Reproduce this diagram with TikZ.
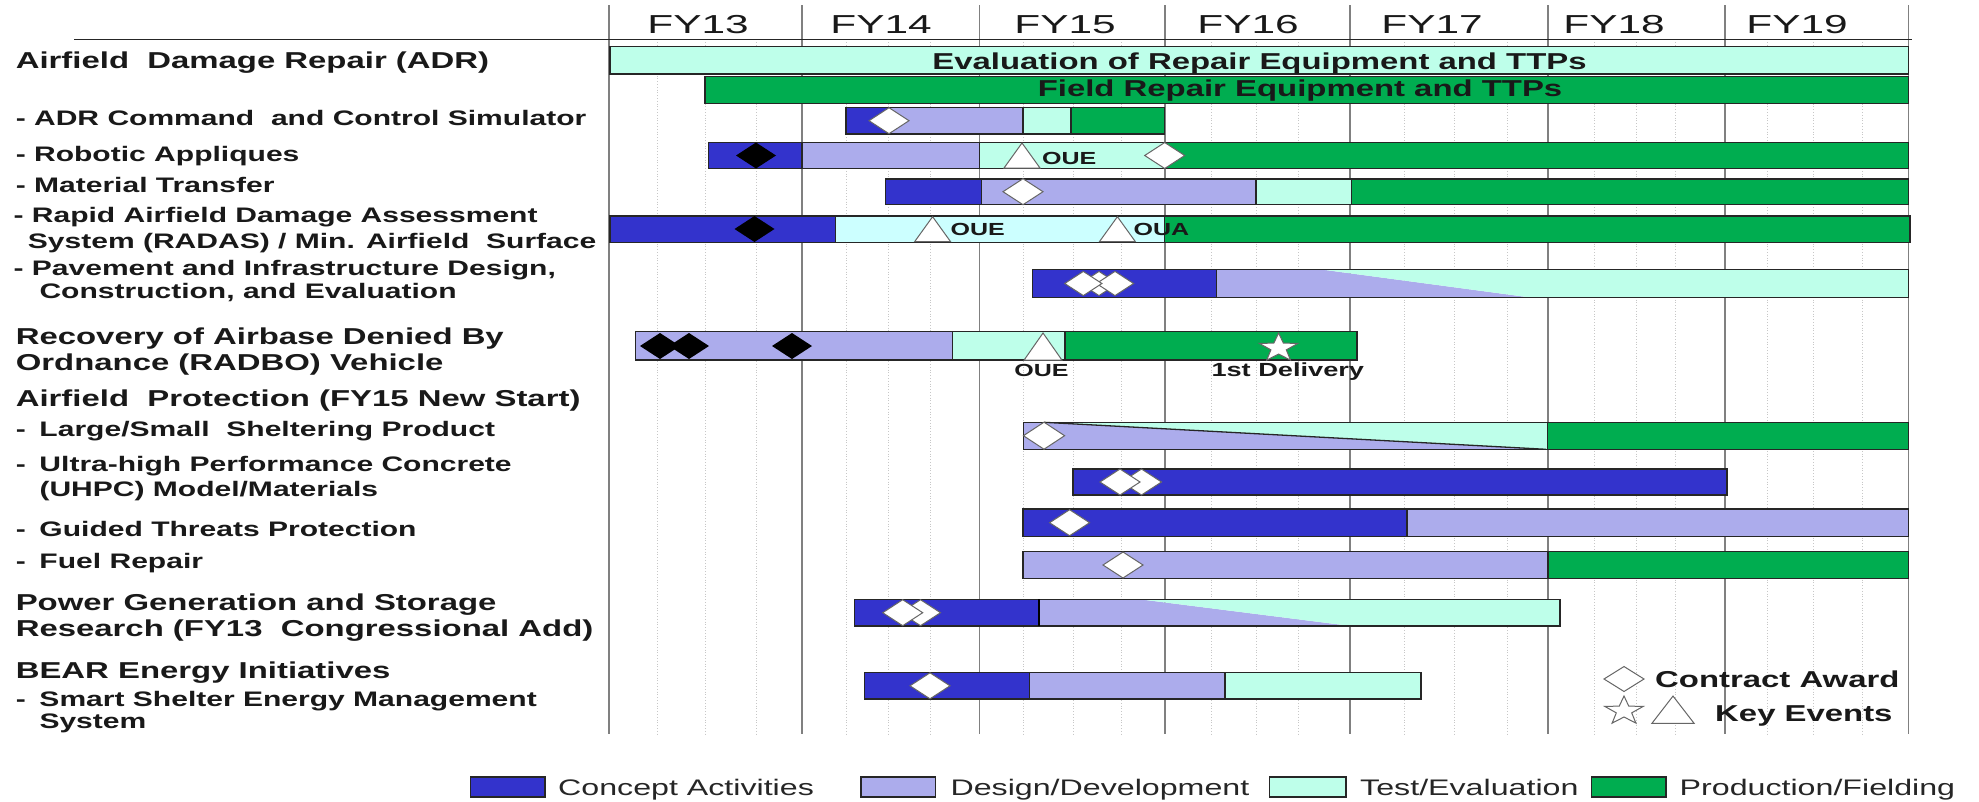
\documentclass[tikz,border=0pt]{standalone}
\usepackage{fontspec}
\newfontfamily\lab[FakeStretch=1.43]{Liberation Sans}
\newfontfamily\fyf[FakeStretch=1.63]{Liberation Sans}
\definecolor{cblue}{RGB}{51,51,204}
\definecolor{cpurp}{RGB}{172,172,236}
\definecolor{cmint}{RGB}{190,255,234}
\definecolor{ccyan}{RGB}{204,255,255}
\definecolor{cgreen}{RGB}{0,173,80}
\tikzset{
  bar/.style={draw=black!85, line width=1.5pt},
  yr/.style={draw=black!50, line width=1.6pt},
  qt/.style={draw=black!22, line width=0.8pt, dotted},
  lbl/.style={anchor=base west, inner sep=0pt, text=black!90, font=\lab\bfseries\fontsize{21}{25}\selectfont},
  hdr/.style={anchor=base west, inner sep=0pt, text=black!90, font=\lab\bfseries\fontsize{23}{27}\selectfont},
  fy/.style={anchor=base, inner sep=0pt, text=black!90, font=\fyf\fontsize{26}{30}\selectfont},
  bartxt/.style={anchor=base, inner sep=0pt, text=black!90, font=\lab\bfseries\fontsize{23}{27}\selectfont},
  evt/.style={inner sep=0pt, text=black!90, font=\lab\bfseries\fontsize{17.5}{20}\selectfont},
  legtxt/.style={anchor=base west, inner sep=0pt, text=black!85, font=\lab\fontsize{22.5}{26}\selectfont},
  wdia/.pic={\filldraw[fill=white, draw=black!60, line width=1pt] (-20,0)--(0,-13)--(20,0)--(0,13)--cycle;},
  bdia/.pic={\fill[black] (-20,0)--(0,-13)--(20,0)--(0,13)--cycle;},
  wtri/.pic={\filldraw[fill=white, draw=black!60, line width=1pt] (-18,0)--(0,-25)--(18,0)--cycle;},
  wstar/.pic={\filldraw[fill=white, draw=black!60, line width=1pt] (0,-15)
     \foreach \a/\r in {306/6,342/15,18/6,54/15,90/6,126/15,162/6,198/15,234/6} { -- ({1.35*\r*cos(\a)},{\r*sin(\a)}) } -- cycle;}
}
\begin{document}
\begin{tikzpicture}[x=1pt,y=-1pt]
\useasboundingbox (0,0) rectangle (1979,801);
\fill[white] (0,0) rectangle (1979,801);

% quarter grid lines
\foreach \q in {657,705,756,846,888,930,1023,1073,1121,1211,1256,1298,1404,1454,1507,1594,1636,1675,1767,1813,1862}
  \draw[qt] (\q,42) -- (\q,734);
% year lines
\foreach \q in {609,802,979.5,1165,1350,1548,1725,1908.6}
  \draw[yr] (\q,5) -- (\q,734);
% header line
\draw[draw=black!85, line width=1.8pt] (74,39.5) -- (1912,39.5);

% FY labels
\node[fy] (fy13) at (698,33.3) {FY13};
\node[fy] (fy14) at (881,33.3) {FY14};
\node[fy] (fy15) at (1065,33.3) {FY15};
\node[fy] (fy16) at (1248,33.3) {FY16};
\node[fy] (fy17) at (1432,33.3) {FY17};
\node[fy] (fy18) at (1614,33.3) {FY18};
\node[fy] (fy19) at (1797,33.3) {FY19};

% left labels
\node[hdr] (l1) at (15.6,68.3) {Airfield~ Damage Repair (ADR)};
\node[lbl] (l2) at (15.6,125) {- ADR Command~ and Control Simulator};
\node[lbl] (l3) at (15.6,161.7) {- Robotic Appliques};
\node[lbl] (l4) at (15.6,192.7) {- Material Transfer};
\node[lbl] (l5a) at (13.4,222.7) {- Rapid Airfield Damage Assessment};
\node[lbl] (l5b) at (27.7,248.3) {System (RADAS) / Min. Airfield~ Surface};
\node[lbl] (l6a) at (13.4,275) {- Pavement and Infrastructure Design,};
\node[lbl] (l6b) at (39.3,298.3) {Construction, and Evaluation};
\node[hdr] (l7a) at (15.6,344) {Recovery of Airbase Denied By};
\node[hdr] (l7b) at (15.6,370) {Ordnance (RADBO) Vehicle};
\node[hdr] (l8) at (15.6,406.7) {Airfield~ Protection (FY15 New Start)};
\node[lbl] (l9) at (15.6,436) {\makebox[23.7pt][l]{-}Large/Small~ Sheltering Product};
\node[lbl] (l10a) at (15.6,471.7) {\makebox[23.7pt][l]{-}Ultra-high Performance Concrete};
\node[lbl] (l10b) at (39.3,496.7) {(UHPC) Model/Materials};
\node[lbl] (l11) at (15.6,536.7) {\makebox[23.7pt][l]{-}Guided Threats Protection};
\node[lbl] (l12) at (15.6,568.3) {\makebox[23.7pt][l]{-}Fuel Repair};
\node[hdr] (l13a) at (15.6,610) {Power Generation and Storage};
\node[hdr] (l13b) at (15.6,636.7) {Research (FY13~ Congressional Add)};
\node[hdr] (l14) at (15.6,678.3) {BEAR Energy Initiatives};
\node[lbl] (l15a) at (15.6,706.7) {\makebox[23.7pt][l]{-}Smart Shelter Energy Management};
\node[lbl] (l15b) at (39.3,728.3) {System};

% R1 Evaluation
\filldraw[bar, fill=cmint] (609.8,46.7) rectangle (1908.6,74);
\node[bartxt] (t1) at (1259.5,69) {Evaluation of Repair Equipment and TTPs};
% R2 Field
\filldraw[bar, fill=cgreen] (705,76.5) rectangle (1908.6,103.3);
\node[bartxt] (t2) at (1300,96.7) {Field Repair Equipment and TTPs};

% R3 ADR C2 simulator
\filldraw[bar, fill=cblue] (846,107.3) rectangle (889,134);
\filldraw[bar, fill=cpurp] (889,107.3) rectangle (1022.8,134);
\filldraw[bar, fill=cmint] (1022.8,107.3) rectangle (1071,134);
\filldraw[bar, fill=cgreen] (1071,107.3) rectangle (1164.7,134);
\pic at (889,120.7) {wdia};

% R4 Robotic
\filldraw[bar, fill=cblue] (708.5,142.3) rectangle (802,168.7);
\filldraw[bar, fill=cpurp] (802,142.3) rectangle (979.5,168.7);
\filldraw[bar, fill=cmint] (979.5,142.3) rectangle (1164.7,168.7);
\filldraw[bar, fill=cgreen] (1164.7,142.3) rectangle (1908.6,168.7);
\pic at (756,155.5) {bdia};
\pic at (1022,168) {wtri};
\node[evt, anchor=base west] (e4) at (1042,164) {OUE};
\pic at (1164.7,155.5) {wdia};

% R5 Material transfer
\filldraw[bar, fill=cblue] (885.7,179) rectangle (981.7,204.3);
\filldraw[bar, fill=cpurp] (981.7,179) rectangle (1256,204.3);
\filldraw[bar, fill=cmint] (1256,179) rectangle (1351.4,204.3);
\filldraw[bar, fill=cgreen] (1351.4,179) rectangle (1908.6,204.3);
\pic at (1023,191.7) {wdia};

% R6 RADAS
\filldraw[bar, fill=cblue] (609.8,216) rectangle (835.7,242.3);
\filldraw[bar, fill=ccyan] (835.7,216) rectangle (1164.7,242.3);
\filldraw[bar, fill=cgreen] (1164.7,216) rectangle (1910,242.3);
\pic at (754.5,229) {bdia};
\pic at (932.6,241.7) {wtri};
\node[evt, anchor=base west] (e6a) at (950.4,235.7) {OUE};
\pic at (1117.4,241.7) {wtri};
\node[evt, anchor=base west] (e6b) at (1133.5,235.7) {OUA};

% R7 Pavement
\fill[cpurp] (1216.7,269.3) -- (1320,269.3) -- (1532,297.7) -- (1216.7,297.7) -- cycle;
\fill[cmint] (1320,269.3) -- (1908.6,269.3) -- (1908.6,297.7) -- (1532,297.7) -- cycle;
\filldraw[bar, fill=cblue] (1032.7,269.3) rectangle (1216.7,297.7);
\draw[bar] (1032.7,269.3) rectangle (1908.6,297.7);
\pic[scale=0.93] at (1099,283.5) {wdia};
\pic[scale=0.93] at (1115,283.5) {wdia};
\pic[scale=0.93] at (1083.3,283.5) {wdia};

% R8 RADBO
\filldraw[bar, fill=cpurp] (635.7,331.7) rectangle (952.7,360);
\filldraw[bar, fill=cmint] (952.7,331.7) rectangle (1065,360);
\filldraw[bar, fill=cgreen] (1065,331.7) rectangle (1356.8,360);
\pic at (660,346) {bdia};
\pic at (689,346) {bdia};
\pic at (792,346) {bdia};
\pic[xscale=1.05, yscale=1.08] at (1043,360) {wtri};
\node[evt, anchor=base] (e8a) at (1041.4,376.5) {OUE};
\pic at (1278.6,348) {wstar};
\node[evt, anchor=base, font=\lab\bfseries\fontsize{19}{22}\selectfont] (e8b) at (1287.8,376.5) {1st Delivery};

% R9 Large/Small sheltering
\fill[cpurp] (1023.6,422.3) -- (1044,422.3) -- (1546,449.3) -- (1023.6,449.3) -- cycle;
\fill[cmint] (1044,422.3) -- (1547.5,422.3) -- (1547.5,449.3) -- (1546,449.3) -- cycle;
\draw[draw=black!85, line width=1.3pt] (1044,422.3) -- (1546,449.3);
\draw[bar] (1023.6,422.3) rectangle (1547.5,449.3);
\filldraw[bar, fill=cgreen] (1547.5,422.3) rectangle (1908.6,449.3);
\pic[xscale=1.03, yscale=1.04] at (1044,435.7) {wdia};

% R10 UHPC
\filldraw[bar, fill=cblue] (1073,469) rectangle (1727,495);
\pic at (1141.5,482) {wdia};
\pic at (1120,482) {wdia};

% R11 Guided threats
\filldraw[bar, fill=cblue] (1023,509) rectangle (1407,536.7);
\filldraw[bar, fill=cpurp] (1407,509) rectangle (1908.6,536.7);
\pic at (1069.6,522.7) {wdia};

% R12 Fuel repair
\filldraw[bar, fill=cpurp] (1023,551.7) rectangle (1548,578.3);
\filldraw[bar, fill=cgreen] (1548,551.7) rectangle (1908.6,578.3);
\pic at (1123,565) {wdia};

% R13 Power generation
\fill[cpurp] (1038.8,599.3) -- (1140,599.3) -- (1351,626) -- (1038.8,626) -- cycle;
\fill[cmint] (1140,599.3) -- (1560,599.3) -- (1560,626) -- (1351,626) -- cycle;
\filldraw[bar, fill=cblue] (854.5,599.3) rectangle (1038.8,626);
\draw[bar] (854.5,599.3) rectangle (1560,626);
\draw[draw=black, line width=2.4pt] (1038.8,599.3) -- (1038.8,626);
\pic at (920.5,612.7) {wdia};
\pic at (902.7,612.7) {wdia};

% R14 Smart shelter
\filldraw[bar, fill=cblue] (864.7,672.7) rectangle (1029.5,699);
\filldraw[bar, fill=cpurp] (1029.5,672.7) rectangle (1225,699);
\filldraw[bar, fill=cmint] (1225,672.7) rectangle (1421,699);
\pic at (930,685.8) {wdia};

% marker key
\pic[yscale=0.96] at (1624,679) {wdia};
\node[hdr] (k1) at (1655,687.7) {Contract Award};
\pic at (1624,711) {wstar};
\pic[xscale=1.17, yscale=1.09] at (1673,723.3) {wtri};
\node[hdr] (k2) at (1715,721) {Key Events};

% colour legend
\filldraw[draw=black!85, line width=1.2pt, fill=cblue] (470.7,777) rectangle (545,797);
\node[legtxt] (g1) at (558,795.5) {Concept Activities};
\filldraw[draw=black!85, line width=1.2pt, fill=cpurp] (861,777) rectangle (935.7,797);
\node[legtxt] (g2) at (950.4,795.5) {Design/Development};
\filldraw[draw=black!85, line width=1.2pt, fill=cmint] (1269.6,777) rectangle (1346,797);
\node[legtxt] (g3) at (1360,795.5) {Test/Evaluation};
\filldraw[draw=black!85, line width=1.2pt, fill=cgreen] (1591.6,777) rectangle (1666,797);
\node[legtxt] (g4) at (1679.5,795.5) {Production/Fielding};
\end{tikzpicture}
\end{document}
